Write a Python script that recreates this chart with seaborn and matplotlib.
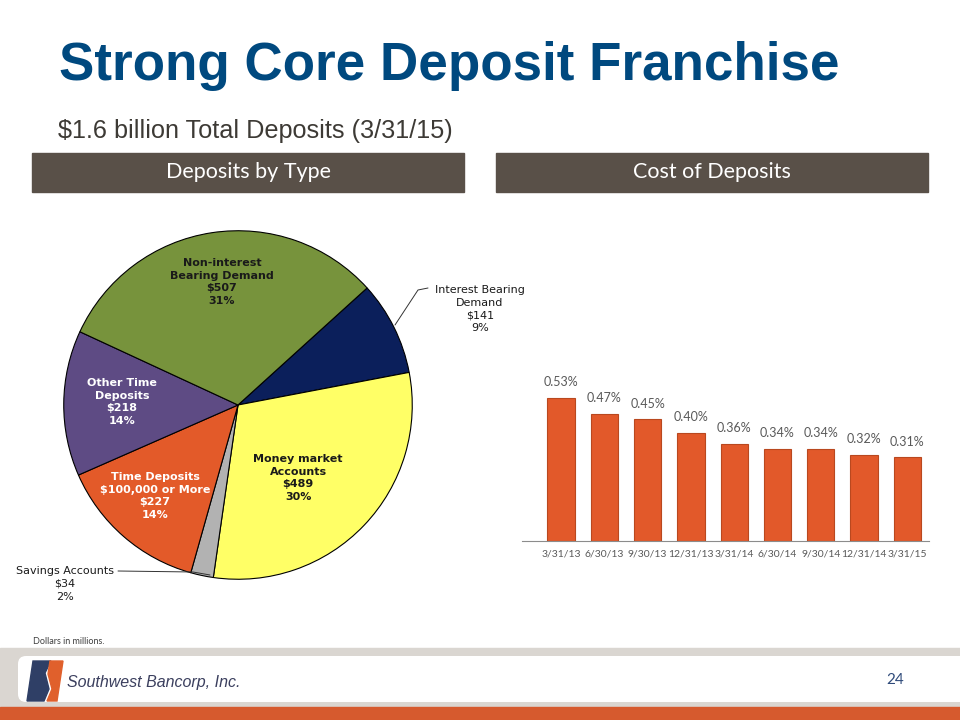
import matplotlib
matplotlib.use("Agg")
import matplotlib.pyplot as plt
from matplotlib.patches import Rectangle, Polygon, FancyBboxPatch
import seaborn as sns
import pandas as pd

# %% data
deposit_types = ["Interest Bearing\nDemand", "Money market\nAccounts", "Savings Accounts",
                 "Time Deposits\n$100,000 or More", "Other Time\nDeposits",
                 "Non-interest\nBearing Demand"]
deposit_amt = [141, 489, 34, 227, 218, 507]
deposit_pct = [9, 30, 2, 14, 14, 31]
pie_colors = ["#0B1F5B", "#FFFF66", "#B2B2B2", "#E35A29", "#5E4B84", "#77933C"]

quarters = ["3/31/13", "6/30/13", "9/30/13", "12/31/13", "3/31/14",
            "6/30/14", "9/30/14", "12/31/14", "3/31/15"]
cost = [0.53, 0.47, 0.45, 0.40, 0.36, 0.34, 0.34, 0.32, 0.31]

# %% figure setup
sns.set_style("white")
plt.rcParams["font.family"] = ["DejaVu Sans"]

W, H = 960, 720
fig = plt.figure(figsize=(9.6, 7.2), dpi=100)

def frac(x0, y0, x1, y1):
    # pixel box (top-left origin) -> figure fraction rect
    return [x0 / W, 1 - y1 / H, (x1 - x0) / W, (y1 - y0) / H]

bg = fig.add_axes([0, 0, 1, 1])
bg.set_xlim(0, W)
bg.set_ylim(H, 0)
bg.axis("off")

# title / subtitle
bg.text(59, 80, "Strong Core Deposit Franchise", fontsize=38.2, fontweight="bold",
        color="#00497F", family="Liberation Sans", va="baseline")
bg.text(58, 138, "$1.6 billion Total Deposits (3/31/15)", fontsize=18.2,
        color="#3D3A35", family="Liberation Sans", va="baseline")

# section headers
hdr = "#595048"
bg.add_patch(Rectangle((32, 153), 432, 39, color=hdr))
bg.add_patch(Rectangle((496, 153), 432, 39, color=hdr))
bg.text(248, 172, "Deposits by Type", fontsize=15.5, color="white", family="Lato",
        ha="center", va="center")
bg.text(712, 172, "Cost of Deposits", fontsize=15.5, color="white", family="Lato",
        ha="center", va="center")

# footer
bg.text(33, 641, "Dollars in millions.", fontsize=6.5, color="#404040", family="Lato",
        va="center")
bg.add_patch(Rectangle((0, 648), W, 60, color="#DAD6D1"))
bg.add_patch(FancyBboxPatch((18, 656), 960, 46, boxstyle="round,pad=0,rounding_size=8",
                            facecolor="white", edgecolor="none"))
bg.add_patch(Rectangle((0, 707), W, 13, color="#D65A2E"))
bg.add_patch(Polygon([(27, 701), (33, 661), (51, 661), (45, 673), (49, 689), (44, 701)],
                     closed=True, color="#2F3F66"))
bg.add_patch(Polygon([(50, 661), (63, 661), (57, 701), (47, 701), (52, 689), (48, 674)],
                     closed=True, color="#E0602C"))
bg.text(67, 682, "Southwest Bancorp, Inc.", fontsize=11.5, style="italic",
        color="#3B3F5E", family="Liberation Sans", va="center")
bg.text(895, 680, "24", fontsize=11, color="#2E4A7A", family="Lato",
        ha="center", va="center")

# %% pie chart
cx, cy, r = 238, 405, 176
axp = fig.add_axes(frac(cx - r, cy - r, cx + r, cy + r))
axp.pie(deposit_amt, colors=pie_colors, startangle=42.2, counterclock=False,
        radius=1, wedgeprops=dict(edgecolor="black", linewidth=0.8))
axp.set_xlim(-1.01, 1.01)
axp.set_ylim(-1.01, 1.01)
axp.set_aspect("equal")
axp.axis("off")

# %% bar chart
axb = fig.add_axes(frac(522, 360, 929, 541))
df = pd.DataFrame({"quarter": quarters, "cost": cost})
sns.barplot(data=df, x="quarter", y="cost", ax=axb, color="#E2592A", width=0.63,
            edgecolor="#B9481F", linewidth=0.8, saturation=1)
axb.bar_label(axb.containers[0], labels=[f"{v:.2f}%" for v in cost], padding=7,
              fontsize=9, color="#595959", family="Lato")
axb.set_xlim(-0.9, 8.5)
axb.set_ylim(0, 0.67)
axb.set_xlabel("")
axb.set_ylabel("")
axb.set_yticks([])
axb.tick_params(axis="x", length=0, labelsize=7.5, labelcolor="#595959", pad=6)
for lab in axb.get_xticklabels():
    lab.set_family("Lato")
for s in ["top", "right", "left"]:
    axb.spines[s].set_visible(False)
axb.spines["bottom"].set_color("#8C8C8C")
axb.patch.set_alpha(0)

# %% overlay labels for pie
ov = fig.add_axes([0, 0, 1, 1])
ov.set_xlim(0, W)
ov.set_ylim(H, 0)
ov.axis("off")
ov.patch.set_alpha(0)

lab_pos = [(480, 309), (298, 478), (65, 584), (155, 496), (122, 402), (222, 282)]
lab_col = ["#1A1A1A", "#1A1A1A", "#1A1A1A", "white", "white", "#1A1A1A"]
lab_w = ["normal", "bold", "normal", "bold", "bold", "bold"]
for name, amt, pct, (x, y), c, w in zip(deposit_types, deposit_amt, deposit_pct,
                                        lab_pos, lab_col, lab_w):
    ov.text(x, y, f"{name}\n${amt}\n{pct}%", ha="center", va="center", fontsize=8,
            color=c, fontweight=w, linespacing=1.35, family="DejaVu Sans")

ov.plot([428, 418, 395], [288, 290, 325], color="#333333", lw=0.7)
ov.plot([118, 193, 210], [571, 572, 575], color="#333333", lw=0.7)

fig.savefig("out.png", dpi=100)
